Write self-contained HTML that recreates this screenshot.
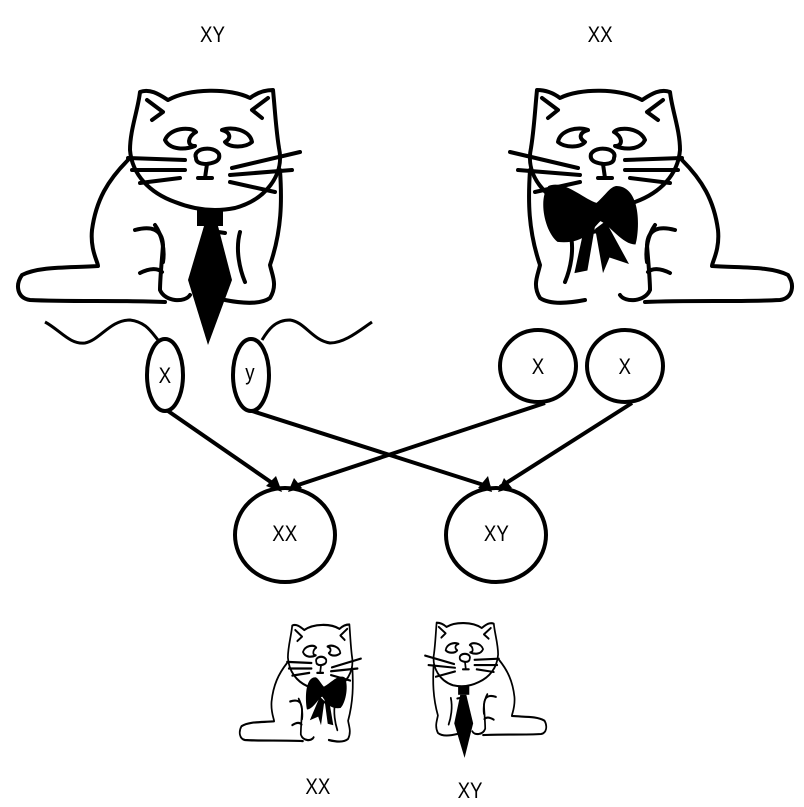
<!DOCTYPE html>
<html><head><meta charset="utf-8"><style>
html,body{margin:0;padding:0;background:#fff;}
svg{display:block}
text{font-family:"Liberation Sans",sans-serif;font-size:22px;fill:#000;}
</style></head><body>
<svg width="804" height="807" viewBox="0 0 804 807" xmlns="http://www.w3.org/2000/svg">
<defs>
<g id="cat" fill="none" stroke="#000" stroke-width="4" stroke-linecap="round" stroke-linejoin="round">
  <path d="M140,92 C150,88 160,95 168,100 C190,88 230,88 250,98 C258,92 265,90 273,90 C275,110 276,130 279,148 C285,175 265,200 235,208 C215,212 195,210 175,202 C150,193 132,175 130,150 C130,130 138,110 140,92 Z"/>
  <path d="M147,100 L163,112 L152,120" />
  <path d="M268,98 L252,110 L262,118" />
  <path d="M165,140 C170,128 190,126 196,132 C188,136 186,146 195,146 C185,150 170,150 165,140 Z"/>
  <path d="M222,130 C232,126 250,130 252,142 C245,148 230,148 225,142 C232,138 230,132 222,130 Z"/>
  <path d="M196,158 C192,148 214,145 219,154 C221,162 212,163 207,164 C200,164 196,162 196,158 Z"/>
  <path d="M207,164 L205,178 L198,178 M205,178 L212,178"/>
  <path d="M128,158 L185,160 M132,170 L185,170 M140,183 L180,178 M232,168 L300,152 M230,175 L292,170 M230,182 L275,192"/>
  <path d="M128,160 C108,180 96,200 92,230 C90,250 98,262 98,266 C70,268 40,266 22,275 C15,285 17,298 30,300 C70,302 120,300 165,302"/>
  <path d="M280,170 C282,200 282,230 270,265 C272,275 278,285 270,298 C260,305 240,303 225,300"/>
  <path d="M135,230 C150,226 162,228 163,245 C162,260 160,278 160,290 C165,302 185,303 190,295"/>
  <path d="M155,225 C162,235 165,250 163,262 M140,273 C150,268 158,268 162,272"/>
  <path d="M240,232 C235,250 240,270 245,282"/>
  <path d="M205,230 L225,233"/>
</g>
<g id="tie">
  <rect x="197" y="210" width="26" height="16" fill="#000"/>
  <path d="M204,226 L218,226 L232,280 L208,345 L188,280 Z" fill="#000"/>
</g>
<g id="bow" fill="#000">
  <path d="M200,195 C180,195 182,230 185,240 C195,240 205,225 212,222 C220,230 225,240 245,238 C255,230 260,205 252,195 C240,190 225,205 215,208 C208,202 205,196 200,195 Z"/>
  <path d="M208,222 L190,255 L205,250 L210,262 L216,228 Z"/>
  <path d="M216,225 L222,260 L232,262 L224,225 Z"/>
</g>
</defs>

<g transform="scale(0.85,1)">
<text x="250" y="42" text-anchor="middle">XY</text>
<text x="706" y="42" text-anchor="middle">XX</text>
</g>

<use href="#cat"/>
<use href="#tie"/>
<g transform="translate(810,0) scale(-1,1)">
  <use href="#cat"/>
  <g transform="translate(220,225) scale(1.3) translate(-220,-225)"><use href="#bow"/></g>
</g>

<path d="M45,322 C60,330 70,345 85,343 C100,340 110,320 130,320 C145,322 150,330 158,340 M262,340 C268,330 275,320 290,320 C305,322 312,340 330,343 C345,343 360,330 372,322" fill="none" stroke="#000" stroke-width="3"/>

<g fill="none" stroke="#000" stroke-width="4">
  <ellipse cx="165" cy="375" rx="18" ry="36"/>
  <ellipse cx="251" cy="375" rx="18" ry="36"/>
  <ellipse cx="538" cy="366" rx="38" ry="36"/>
  <ellipse cx="625" cy="366" rx="38" ry="36"/>
  <ellipse cx="285" cy="535" rx="50" ry="47"/>
  <ellipse cx="496" cy="535" rx="50" ry="47"/>
</g>
<g transform="scale(0.85,1)">
<text x="194" y="377" text-anchor="middle" dominant-baseline="middle">X</text>
<text x="294" y="374" text-anchor="middle" dominant-baseline="middle">y</text>
<text x="633" y="368" text-anchor="middle" dominant-baseline="middle">X</text>
<text x="735" y="368" text-anchor="middle" dominant-baseline="middle">X</text>
<text x="335" y="535" text-anchor="middle" dominant-baseline="middle">XX</text>
<text x="584" y="535" text-anchor="middle" dominant-baseline="middle">XY</text>
<text x="374" y="794" text-anchor="middle">XX</text>
<text x="553" y="798" text-anchor="middle">XY</text>
</g>

<g stroke="#000" stroke-width="4" fill="none">
  <line x1="168" y1="411" x2="278" y2="487"/>
  <line x1="252" y1="411" x2="490" y2="487"/>
  <line x1="545" y1="403" x2="292" y2="487"/>
  <line x1="632" y1="403" x2="500" y2="487"/>
</g>
<g fill="#000">
  <path d="M282,492 L266,486 L276,476 Z"/>
  <path d="M288,492 L294,478 L302,488 Z"/>
  <path d="M492,492 L478,488 L488,476 Z"/>
  <path d="M498,492 L504,478 L512,488 Z"/>
</g>

<g transform="translate(232,575) scale(0.43,0.55)">
  <use href="#cat"/>
  <g transform="translate(220,225) scale(1.3) translate(-220,-225)"><use href="#bow"/></g>
</g>
<g transform="translate(554,575) scale(-0.43,0.53)">
  <use href="#cat"/>
  <use href="#tie"/>
</g>
</svg>
</body></html>
